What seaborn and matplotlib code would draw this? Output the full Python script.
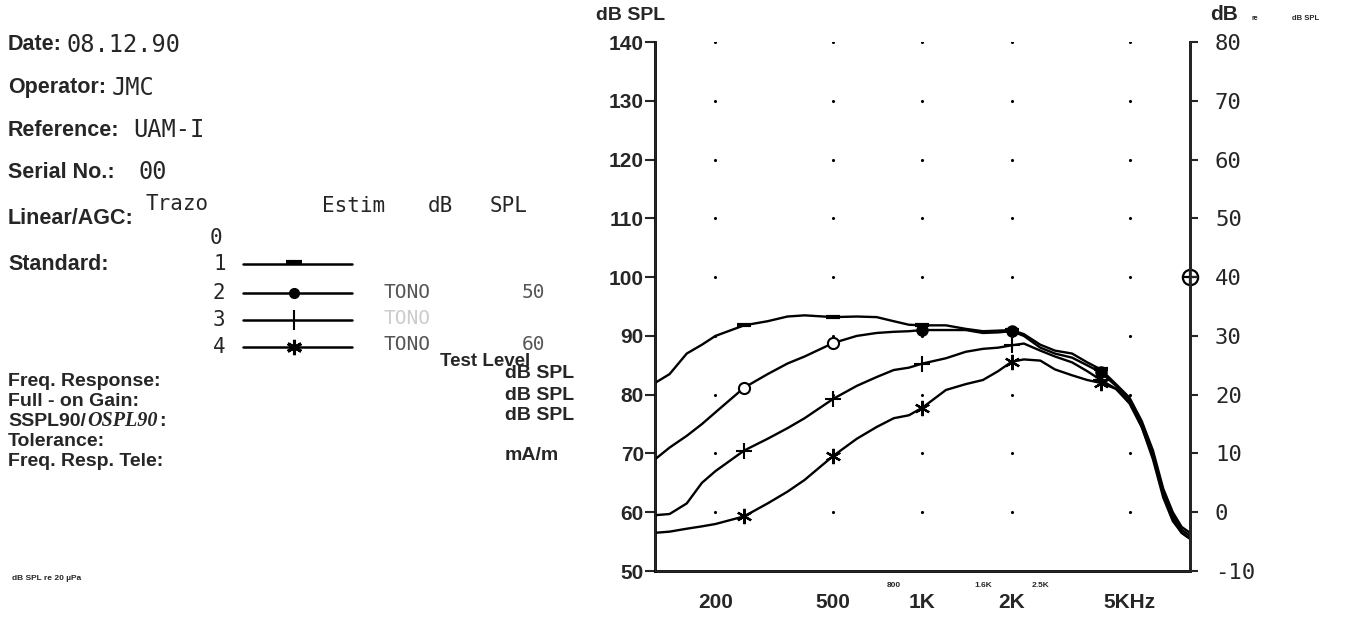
import numpy as np
import pandas as pd
import matplotlib
matplotlib.use('Agg')
import matplotlib.pyplot as plt
import seaborn as sns

sns.set_style('white')
plt.rcParams['font.family'] = ['Liberation Sans', 'DejaVu Sans']
MONO = ['DejaVu Sans Mono']

# Frecuencias (Hz) comunes a los cuatro trazos
freq = [125, 140, 160, 180, 200, 250, 300, 350, 400, 500, 600, 700, 800, 900,
        1000, 1200, 1400, 1600, 1800, 2000, 2200, 2500, 2800, 3200, 3600, 4000,
        4500, 5000, 5500, 6000, 6500, 7000, 7500, 8000]

# Niveles dB SPL
trazo_1 = [82, 83.5, 87, 88.5, 90, 91.8, 92.5, 93.3, 93.5, 93.2, 93.3, 93.2, 92.5, 91.9,
           91.8, 91.8, 91.2, 90.8, 90.9, 91, 90.3, 88.5, 87.5, 87, 85.5, 84.3,
           81.8, 79.5, 75.5, 70.5, 64, 60, 57.5, 56.5]
trazo_2 = [69, 71, 73, 75, 77, 81.2, 83.5, 85.3, 86.5, 88.8, 90, 90.5, 90.7, 90.8,
           91, 91, 91, 90.5, 90.6, 90.8, 90, 88, 87, 86.3, 85, 83.8,
           81.5, 79.2, 75, 70, 63.5, 59.5, 57, 56]
trazo_3 = [59.5, 59.7, 61.5, 65, 67, 70.5, 72.5, 74.3, 76, 79.3, 81.5, 83, 84.2, 84.6,
           85.3, 86.2, 87.3, 87.8, 88, 88.4, 88.7, 87.5, 86.5, 85.5, 84, 82.5,
           81, 78.8, 74.5, 69.5, 63, 59, 56.5, 55.5]
trazo_4 = [56.5, 56.7, 57.2, 57.6, 58, 59.3, 61.5, 63.5, 65.5, 69.6, 72.5, 74.5, 76, 76.5,
           77.8, 80.8, 81.8, 82.5, 84, 85.6, 86, 85.8, 84.3, 83.3, 82.5, 82,
           81, 78.5, 74.5, 69, 62.5, 58.5, 56.5, 55.5]

# frecuencias donde el plotter pone la marca de cada trazo
marca_freq = [250, 500, 1000, 2000, 4000]

# puntos de la reticula
grid_freq = [200, 500, 1000, 2000, 5000]
grid_spl = [60, 70, 80, 90, 100, 110, 120, 130, 140]

yticks_izq = [50, 60, 70, 80, 90, 100, 110, 120, 130, 140]
yticks_der = [-10, 0, 10, 20, 30, 40, 50, 60, 70, 80]
xticks = [200, 500, 1000, 2000, 5000]
xtick_labels = ['200', '500', '1K', '2K', '5KHz']
xticks_men = [800, 1600, 2500]
xtick_labels_men = ['800', '1.6K', '2.5K']
nivel_prueba = 100  # circulo en el eje derecho (40 dB re)

n = len(freq)
df = pd.DataFrame({
    'freq': freq * 4,
    'spl': trazo_1 + trazo_2 + trazo_3 + trazo_4,
    'trazo': [1] * n + [2] * n + [3] * n + [4] * n,
})
marcas = df[df['freq'].isin(marca_freq)]

fig = plt.figure(figsize=(13.53, 6.19), dpi=100)
renderer = fig.canvas.get_renderer()

# --- panel de texto (coordenadas en pixeles) ---
info = fig.add_axes([0, 0, 1, 1])
info.set_xlim(0, 1353)
info.set_ylim(619, 0)
info.axis('off')

etiquetas = [('Date:', 45, '08.12.90', 67), ('Operator:', 88, 'JMC', 112),
             ('Reference:', 130, 'UAM-I', 133), ('Serial No.:', 172, '00', 138)]
for lab, y, val, xv in etiquetas:
    info.text(8, y, lab, fontsize=15.5, fontweight='bold', va='center')
    info.text(xv, y, val, fontsize=17, family=MONO, va='center')
info.text(8, 218, 'Linear/AGC:', fontsize=15.5, fontweight='bold', va='center')
info.text(8, 264, 'Standard:', fontsize=15.5, fontweight='bold', va='center')

info.text(146, 204, 'Trazo', fontsize=15, family=MONO, va='center')
info.text(322, 206, 'Estim', fontsize=15, family=MONO, va='center')
info.text(428, 206, 'dB', fontsize=15, family=MONO, va='center')
info.text(490, 206, 'SPL', fontsize=15, family=MONO, va='center')
info.text(210, 238, '0', fontsize=15, family=MONO, va='center')

filas_y = [264, 293, 320, 347]
estilo_leyenda = [dict(marker='_', ms=11, mew=3), dict(marker='o', ms=7, mew=1),
                  dict(marker='|', ms=14, mew=1.5), dict(marker=(6, 2, 0), ms=11, mew=2.2)]
for i, y in enumerate(filas_y):
    info.text(213, y, str(i + 1), fontsize=15, family=MONO, va='center')
    info.plot([243, 352], [y, y], color='black', lw=1.8)
    info.plot([294], [y - (2 if i == 0 else 0)], color='black', **estilo_leyenda[i])
info.text(383, 293, 'TONO', fontsize=14, family=MONO, va='center', color='#555555')
info.text(522, 293, '50', fontsize=14, family=MONO, va='center', color='#555555')
info.text(383, 319, 'TONO', fontsize=14, family=MONO, va='center', color='#cccccc')
info.text(383, 344, 'TONO', fontsize=14, family=MONO, va='center', color='#555555')
info.text(522, 344, '60', fontsize=14, family=MONO, va='center', color='#555555')
info.text(440, 361, 'Test Level', fontsize=13.5, fontweight='bold', va='center')

bloque = [('Freq. Response:', 381, 'dB SPL', 374), ('Full - on Gain:', 401, 'dB SPL', 395),
          ('SSPL90/', 421, 'dB SPL', 416), ('Tolerance:', 441, None, 0),
          ('Freq. Resp. Tele:', 462, 'mA/m', 456)]
textos = {}
for lab, y, uni, yu in bloque:
    textos[lab] = info.text(8, y, lab, fontsize=14, fontweight='bold', va='center')
    if uni:
        info.text(505, yu, uni, fontsize=14, fontweight='bold', va='center')

# OSPL90 en cursiva justo despues de "SSPL90/"
bb = textos['SSPL90/'].get_window_extent(renderer=renderer)
x_sig = bb.x1 + 1
t_ospl = info.text(x_sig, 421, 'OSPL90', fontsize=14.5, family=['Liberation Serif'],
                   style='italic', fontweight='bold', va='center')
bb2 = t_ospl.get_window_extent(renderer=renderer)
info.text(bb2.x1 + 2, 421, ':', fontsize=14, fontweight='bold', va='center')

info.text(12, 578, 'dB SPL re 20 \u00b5Pa', fontsize=6, fontweight='bold', va='center')

info.text(631, 15, 'dB SPL', fontsize=14, fontweight='bold', va='center', ha='center')
info.text(1210, 15, 'dB', fontsize=15, fontweight='bold', va='center')
info.text(1252, 18, 're', fontsize=5, fontweight='bold', va='center')
info.text(1292, 18, 'dB SPL', fontsize=5.5, fontweight='bold', va='center')

# --- grafico de respuesta ---
ax = fig.add_axes([0.4841, 0.0775, 0.3954, 0.8546])
ax.set_facecolor('none')

gx, gy = np.meshgrid(grid_freq, grid_spl)
sns.scatterplot(x=gx.ravel(), y=gy.ravel(), color='black', s=5, linewidth=0, ax=ax)

sns.lineplot(data=df, x='freq', y='spl', units='trazo', estimator=None,
             color='black', linewidth=1.7, legend=False, ax=ax)

m1 = marcas[marcas['trazo'] == 1]
m2 = marcas[marcas['trazo'] == 2]
m3 = marcas[marcas['trazo'] == 3]
m4 = marcas[marcas['trazo'] == 4]
ax.plot(m1['freq'], m1['spl'], ls='none', marker='_', ms=10, mew=3, color='black')
ax.plot(m2['freq'][:2], m2['spl'][:2], ls='none', marker='o', ms=8, mfc='white',
        mec='black', mew=1.5)
ax.plot(m2['freq'][2:], m2['spl'][2:], ls='none', marker='o', ms=8, color='black')
ax.plot(m3['freq'], m3['spl'], ls='none', marker='+', ms=12, mew=1.5, color='black')
ax.plot(m4['freq'], m4['spl'], ls='none', marker=(6, 2, 0), ms=11, mew=1.6, color='black')

ax.plot([8000], [nivel_prueba], marker='o', ms=11, mfc='white', mec='black', mew=1.6,
        clip_on=False, zorder=5)
ax.plot([8000], [nivel_prueba], marker='+', ms=11, mew=1.6, color='black',
        clip_on=False, zorder=6)

ax.set_xscale('log')
ax.set_xlim(125, 8000)
ax.set_ylim(50, 140)
ax.set_xticks(xticks)
ax.set_xticklabels(xtick_labels)
ax.set_xticks(xticks_men, minor=True)
ax.set_xticklabels(xtick_labels_men, minor=True)
ax.set_yticks(yticks_izq)
ax.set_xlabel('')
ax.set_ylabel('')
ax.tick_params(axis='x', which='major', direction='out', length=5, width=1.5,
               pad=11, labelsize=15)
ax.tick_params(axis='x', which='minor', direction='out', length=4, width=1.2,
               pad=4, labelsize=6)
ax.tick_params(axis='y', direction='out', length=7, width=1.5, pad=1, labelsize=15,
               left=True)
for lab in ax.get_xticklabels() + ax.get_yticklabels():
    lab.set_fontweight('bold')
for lab in ax.get_xticklabels(minor=True):
    lab.set_fontweight('bold')

for lado in ['left', 'bottom', 'right']:
    ax.spines[lado].set_linewidth(2)
    ax.spines[lado].set_color('black')
ax.spines['top'].set_visible(False)

ax2 = ax.twinx()
ax2.set_ylim(-10, 80)
ax2.set_yticks(yticks_der)
ax2.set_yticklabels([str(v) for v in yticks_der], family=MONO, fontsize=16)
ax2.tick_params(axis='y', direction='out', length=6, width=1.5, pad=12, right=True)
ax2.spines['top'].set_visible(False)
ax2.spines['right'].set_linewidth(2)

fig.savefig('out.png', dpi=100)
